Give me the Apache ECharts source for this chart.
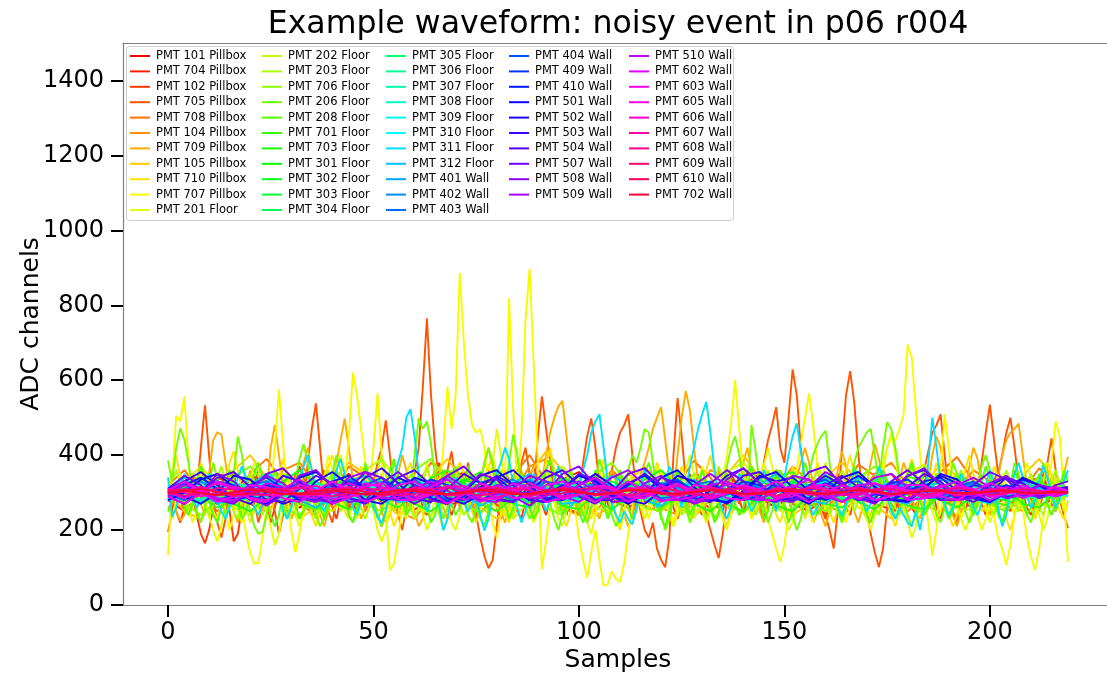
<!DOCTYPE html>
<html>
<head>
<meta charset="utf-8">
<script src="https://cdn.jsdelivr.net/npm/echarts@6/dist/echarts.min.js"></script>
<style>
html, body { margin: 0; padding: 0; background: #ffffff; }
#chart { width: 1107px; height: 675px; }
</style>
</head>
<body>
<div id="chart"></div>
<script>
// Channel names, in plotting order (later channels are drawn on top)
const pmtNames = [
  'PMT 101 Pillbox', 'PMT 704 Pillbox', 'PMT 102 Pillbox', 'PMT 705 Pillbox', 'PMT 708 Pillbox',
  'PMT 104 Pillbox', 'PMT 709 Pillbox', 'PMT 105 Pillbox', 'PMT 710 Pillbox', 'PMT 707 Pillbox',
  'PMT 201 Floor', 'PMT 202 Floor', 'PMT 203 Floor', 'PMT 706 Floor', 'PMT 206 Floor',
  'PMT 208 Floor', 'PMT 701 Floor', 'PMT 703 Floor', 'PMT 301 Floor', 'PMT 302 Floor',
  'PMT 303 Floor', 'PMT 304 Floor', 'PMT 305 Floor', 'PMT 306 Floor', 'PMT 307 Floor',
  'PMT 308 Floor', 'PMT 309 Floor', 'PMT 310 Floor', 'PMT 311 Floor', 'PMT 312 Floor',
  'PMT 401 Wall', 'PMT 402 Wall', 'PMT 403 Wall', 'PMT 404 Wall', 'PMT 409 Wall',
  'PMT 410 Wall', 'PMT 501 Wall', 'PMT 502 Wall', 'PMT 503 Wall', 'PMT 504 Wall',
  'PMT 507 Wall', 'PMT 508 Wall', 'PMT 509 Wall', 'PMT 510 Wall', 'PMT 602 Wall',
  'PMT 603 Wall', 'PMT 605 Wall', 'PMT 606 Wall', 'PMT 607 Wall', 'PMT 608 Wall',
  'PMT 609 Wall', 'PMT 610 Wall', 'PMT 702 Wall'
];

// ---- Busy channels: one ADC value per sample (samples 0..219) ----
const pmt102Pillbox = [
  280,300,250,220,260,310,290,240,190,165, 200,260,330,350,300,250,170,190,260,300,
  280,320,360,310,260,220,260,310,290,250, 280,330,370,340,280,240,270,320,360,310,
  260,230,280,330,310,270,250,300,350,320, 280,240,210,250,310,350,330,280,250,290,
  330,300,260,240,290,340,380,330,270,240, 270,320,350,300,260,220,270,330,360,310,
  260,230,280,330,300,250,230,280,340,370, 330,270,240,280,320,300,260,240,290,340,
  310,260,220,260,310,350,320,270,250,290, 330,310,270,240,280,330,360,320,270,250,
  290,340,310,260,230,270,320,350,300,260, 240,290,330,310,270,250,300,350,330,280,
  250,280,320,300,260,230,270,330,360,320, 270,240,280,310,290,260,300,340,310,260,
  230,270,320,350,310,260,240,290,330,300, 260,230,280,330,360,320,270,250,290,320,
  300,260,240,280,330,350,310,260,230,270, 320,340,300,260,250,290,330,310,270,240,
  280,330,360,320,270,250,290,330,300,260, 240,280,320,350,310,270,250,290,320,300
];
const pmt705Pillbox = [
  195,250,320,290,240,300,350,300,420,533, 400,280,220,180,230,310,360,290,250,300,
  340,280,220,260,330,300,250,190,240,310, 280,350,300,260,380,470,538,420,300,250,
  220,280,330,300,260,290,340,300,250,280, 330,380,420,493,400,300,240,200,260,300,
  350,420,580,765,560,420,330,280,360,410, 330,260,300,380,320,240,180,130,98,120,
  210,300,360,330,270,300,380,420,350,300, 450,557,470,380,300,250,280,330,300,260,
  300,380,450,498,420,320,250,300,360,420, 460,480,509,400,300,250,200,180,220,150,
  120,101,180,400,552,450,330,260,300,350, 300,240,200,160,125,190,280,340,300,270,
  310,360,300,250,290,380,440,480,528,420, 380,500,629,560,420,330,260,220,250,300,
  240,200,151,250,420,560,624,540,400,300, 250,190,140,101,150,260,330,300,250,280,
  320,280,240,300,360,410,460,480,509,400, 300,250,220,280,340,300,260,310,380,460,
  535,440,350,400,460,500,420,330,260,300, 340,290,250,300,380,445,360,280,240,205
];
const pmt709Pillbox = [
  290,330,250,225,240,310,350,330,270,240, 350,440,461,455,380,300,250,220,260,310,
  360,330,280,250,300,420,480,400,320,270, 230,260,320,380,420,360,290,240,210,250,
  310,380,440,498,420,330,270,230,260,300, 340,300,250,220,240,290,350,400,360,290,
  250,210,230,280,330,360,310,260,230,270, 320,380,350,290,250,280,330,380,420,360,
  300,250,220,260,330,390,360,300,260,230, 270,330,400,460,500,530,545,450,350,280,
  240,260,310,290,250,230,270,320,360,330, 280,240,210,240,300,350,380,420,470,500,
  528,440,350,300,400,500,571,520,420,330, 270,230,260,310,360,330,280,240,270,320,
  380,420,360,290,250,220,260,310,350,300, 260,240,280,340,380,420,380,320,270,240,
  210,250,300,360,410,370,300,250,220,260, 320,380,430,390,320,270,240,270,330,380,
  350,290,250,230,270,330,400,450,420,350, 280,240,210,250,310,370,420,390,320,270,
  240,280,340,400,440,460,470,484,400,320, 260,230,270,330,360,320,280,300,350,395
];
const pmt710Pillbox = [
  310,350,400,340,280,240,260,320,380,350, 290,250,230,270,330,380,410,360,300,260,
  220,250,310,350,300,250,280,340,390,350, 290,250,270,320,290,240,210,250,320,370,
  400,360,300,250,230,280,330,370,340,290, 260,300,350,310,250,210,240,300,350,380,
  340,280,250,290,340,300,240,200,230,290, 340,380,350,290,250,220,260,320,370,400,
  350,290,240,220,260,310,350,320,270,230, 260,320,380,420,360,290,240,210,250,310,
  350,300,250,230,280,340,390,350,290,240, 200,240,300,340,310,260,230,270,330,380,
  350,290,250,280,330,370,330,270,230,260, 310,360,400,350,280,240,210,250,310,350,
  320,270,240,280,340,380,340,280,240,220, 260,320,370,330,270,230,260,320,380,350,
  290,250,220,260,310,360,400,350,290,250, 230,270,330,370,330,280,240,210,250,300,
  350,390,350,290,250,280,330,380,340,280, 240,210,240,300,360,400,350,290,250,270,
  320,370,340,280,230,200,240,300,350,310, 260,230,270,330,380,350,290,250,230,280
];
const pmt707Pillbox = [
  133,330,505,490,557,380,260,300,350,280, 230,270,330,300,250,200,240,300,260,190,
  140,110,112,180,260,320,420,575,430,300, 200,141,190,270,330,300,250,280,340,400,
  360,300,260,330,450,621,560,470,380,300, 420,565,400,250,93,110,180,260,320,290,
  230,260,330,380,320,270,300,420,582,470, 560,886,700,560,480,460,470,420,300,220,
  180,240,330,819,520,300,450,760,898,640, 380,95,170,260,330,300,250,280,320,260,
  180,120,73,140,200,120,51,55,90,70, 62,110,190,270,340,300,260,230,280,330,
  360,310,250,220,260,300,270,230,260,320, 370,330,280,250,290,340,400,480,600,470,
  350,280,230,250,300,280,230,190,150,115, 160,240,300,360,430,500,565,480,380,300,
  250,280,330,300,250,220,260,310,350,310, 260,230,270,320,380,420,450,440,470,507,
  695,660,520,400,300,220,131,200,350,509, 420,320,260,230,270,320,290,240,200,230,
  280,240,180,150,107,160,240,300,260,180, 130,93,150,230,300,380,489,450,300,115
];
const pmt201Floor = [
  260,230,280,350,320,260,220,250,310,280, 240,200,170,210,280,330,300,250,220,270,
  330,380,360,300,250,210,160,190,260,320, 290,240,210,240,300,350,330,280,240,270,
  320,370,400,360,300,260,230,270,330,300, 250,200,170,200,260,320,300,250,230,270,
  310,280,240,200,230,290,340,310,260,220, 200,240,300,350,330,280,250,290,340,380,
  470,400,320,260,230,270,310,290,250,220, 250,300,350,320,270,230,210,250,300,340,
  310,260,220,190,240,300,350,330,280,240, 210,250,310,360,330,270,230,260,320,370,
  340,280,240,210,240,300,360,400,350,290, 250,220,250,300,270,230,200,240,300,350,
  320,270,230,260,310,370,420,370,310,260, 230,200,220,270,320,300,250,220,260,320,
  380,350,290,250,220,250,310,360,330,270, 230,200,240,300,350,420,460,400,320,260,
  220,180,210,270,330,300,250,220,250,310, 360,330,270,230,200,230,290,340,310,260,
  220,250,300,350,320,270,240,270,330,380, 340,280,240,200,230,290,340,300,250,260
];
const pmt203Floor = [
  300,330,360,320,270,250,280,330,310,260, 240,280,340,370,330,280,250,230,270,320,
  350,310,260,240,280,330,360,320,270,240, 260,310,350,330,280,250,230,270,320,360,
  340,290,250,270,320,350,310,260,230,260, 310,360,400,350,290,250,270,320,300,260,
  230,260,320,370,330,280,240,270,330,360, 320,270,240,260,310,350,330,280,250,270,
  320,360,330,270,240,280,330,310,260,230, 260,320,360,340,290,250,280,330,360,320,
  270,240,260,310,350,320,270,240,270,320, 350,310,260,230,260,310,360,330,280,250,
  280,330,360,320,270,240,260,310,340,300, 260,230,270,330,370,340,290,250,280,320,
  360,320,270,240,270,330,360,320,270,250, 280,320,350,310,260,240,280,330,360,320,
  270,240,270,320,360,330,280,250,280,330, 360,310,260,240,280,330,300,260,240,280,
  330,370,330,280,250,270,320,350,310,260, 240,280,330,360,320,270,250,280,330,310,
  260,240,270,320,360,330,280,250,280,330, 350,310,260,240,280,330,360,320,280,300
];
const pmt206Floor = [
  385,330,420,472,440,380,300,250,220,260, 320,380,340,280,240,270,350,450,400,310,
  250,210,190,195,240,300,360,330,270,230, 260,330,390,430,380,300,240,210,230,290,
  350,400,360,290,240,220,260,320,380,340, 280,240,210,250,320,380,350,290,250,300,
  400,498,470,490,430,340,270,230,260,320, 370,340,280,240,220,260,320,380,420,380,
  310,260,300,380,455,400,320,260,230,250, 300,350,320,270,230,200,240,300,360,330,
  280,240,220,260,330,390,350,290,240,210, 240,300,360,400,380,420,470,460,380,300,
  240,200,230,290,340,310,260,220,250,310, 360,330,270,230,250,310,370,420,450,400,
  330,280,480,410,320,260,220,250,310,360, 330,280,240,200,230,290,350,400,430,450,
  465,380,300,250,220,260,320,380,420,440, 460,470,400,330,420,488,470,420,340,280,
  240,210,250,310,370,340,280,240,220,260, 320,380,350,290,250,220,250,310,370,400,
  360,300,250,220,260,320,380,350,290,240, 220,260,320,380,340,290,250,300,360,340
];
const pmt208Floor = [
  250,280,320,300,260,240,270,330,370,340, 280,240,220,260,320,360,330,270,230,250,
  300,350,380,340,280,240,210,240,300,350, 330,270,230,250,300,340,310,260,230,260,
  320,360,330,280,240,220,260,320,370,340, 280,230,250,310,360,390,340,280,240,260,
  310,350,320,260,220,240,300,360,330,270, 240,260,320,370,340,280,230,210,250,310,
  360,330,270,230,260,320,350,310,260,230, 250,310,360,390,340,280,240,260,320,300,
  250,220,250,310,360,330,270,230,260,320, 360,320,260,230,250,300,350,380,340,280,
  230,210,250,310,360,330,280,240,270,320, 360,320,260,220,240,300,350,330,270,240,
  260,320,370,340,280,230,250,310,350,310, 260,220,250,300,340,380,340,280,240,260,
  310,350,320,260,230,260,320,370,340,280, 240,220,260,320,360,330,270,230,250,300,
  350,380,340,280,240,260,310,350,310,260, 230,250,300,350,330,270,240,270,330,370,
  340,280,240,220,260,320,360,330,270,240, 260,310,350,320,270,240,270,320,350,330
];
const pmt311Floor = [
  341,235,260,310,350,330,290,260,280,320, 350,320,280,250,230,260,300,340,370,340,
  300,260,240,270,310,350,330,290,250,230, 260,300,340,370,400,360,310,270,250,280,
  320,360,390,350,300,260,240,280,330,300, 260,235,220,250,300,340,380,420,500,523,
  450,350,280,250,280,320,260,200,230,290, 340,320,280,250,270,300,240,198,230,290,
  350,380,420,390,320,260,220,250,310,350, 330,280,250,280,330,370,340,290,260,280,
  320,360,400,460,490,509,420,330,270,240, 220,250,230,215,260,320,360,330,290,260,
  280,330,370,350,300,260,300,370,420,470, 510,542,460,360,290,250,230,260,310,350,
  330,280,250,270,320,360,330,280,250,290, 340,400,450,485,410,330,270,240,260,310,
  350,330,290,260,240,270,320,360,330,280, 250,270,320,370,340,290,250,230,260,240,
  220,210,250,200,260,380,500,420,330,270, 240,260,310,350,330,290,260,240,270,320,
  360,330,260,210,240,300,350,380,340,290, 260,280,330,370,340,300,260,280,330,360
];

// ---- Quiet channels: one ADC value every 4th sample (0, 4, ... 216, then 219) ----
const pmt101Pillbox = [300,320,285,270,310,345,330,290,260,285,320,350,310,275,290,330,300,265,280,315,340,305,270,295,335,355,310,280,260,290,325,300,270,295,340,320,285,260,300,330,310,275,295,335,350,300,270,290,320,295,265,285,325,340,300,290];
const pmt704Pillbox = [280,250,300,340,320,270,250,290,340,360,310,260,280,320,295,255,275,330,355,300,265,290,335,310,260,245,300,350,320,275,290,335,300,255,270,320,350,310,270,250,295,340,315,270,255,300,345,325,280,260,305,340,300,265,285,310];
const pmt708Pillbox = [320,360,300,250,280,350,390,330,270,240,300,370,340,280,250,310,380,350,290,250,280,345,400,330,260,240,300,360,320,265,250,320,385,340,280,245,295,360,330,270,250,310,375,345,285,250,290,355,395,330,270,250,305,365,320,300];
const pmt104Pillbox = [260,300,350,320,270,240,290,360,380,320,260,280,340,300,250,230,290,350,330,280,250,300,370,390,330,270,250,300,350,310,260,240,295,360,340,280,255,310,370,330,270,245,290,350,380,320,265,250,305,360,330,280,250,300,340,310];
const pmt105Pillbox = [300,250,230,290,360,400,340,270,230,260,330,380,350,280,240,270,340,390,330,260,230,280,350,410,360,290,240,260,330,370,320,260,235,280,350,400,340,280,240,270,340,380,330,270,230,260,320,375,345,280,240,275,345,390,330,290];
const pmt202Floor = [290,330,370,320,260,240,290,350,330,270,250,300,360,390,330,270,240,280,340,310,260,230,280,340,370,320,260,250,300,350,320,265,240,290,355,380,325,270,250,300,345,315,260,240,290,350,375,320,265,250,300,340,310,270,260,300];
const pmt706Floor = [310,270,240,280,340,370,320,260,240,290,350,320,270,250,300,360,390,330,270,245,280,345,310,260,240,290,350,380,320,260,250,300,350,315,265,245,295,360,335,275,250,290,340,370,320,265,245,300,350,320,270,250,295,345,320,290];
const pmt701Floor = [300,330,290,260,280,320,350,310,270,255,290,335,320,280,260,295,340,360,315,270,250,285,330,305,265,255,300,345,325,280,260,290,330,310,270,250,295,340,355,310,270,260,300,335,305,265,255,295,340,320,280,265,300,330,305,290];
const pmt703Floor = [280,300,340,310,270,250,290,330,360,320,275,255,295,340,315,270,250,285,330,355,310,270,260,300,340,320,280,255,290,335,360,315,270,250,290,330,305,265,250,295,340,320,275,255,300,345,325,280,260,290,330,310,270,260,300,310];
const pmt301Floor = [300,315,290,275,295,320,330,305,280,290,315,300,280,295,325,335,310,285,275,300,320,305,285,280,305,330,315,290,275,295,320,310,285,280,300,325,335,305,280,290,315,300,280,290,320,310,290,280,300,320,310,285,290,315,305,300];
const pmt302Floor = [295,280,300,325,310,285,275,300,330,320,290,275,290,320,305,280,285,310,335,315,285,275,295,320,310,285,280,305,330,315,290,280,300,325,310,285,275,300,325,320,295,280,295,320,305,280,285,310,330,310,285,280,300,320,305,295];
const pmt303Floor = [310,290,275,295,320,310,285,290,315,330,305,280,285,310,300,275,290,320,325,300,280,295,320,305,280,285,310,330,310,285,280,300,320,300,280,290,315,325,300,280,295,320,310,285,280,305,325,310,285,285,310,320,300,285,300,305];
const pmt304Floor = [290,310,330,305,280,285,310,300,275,290,320,335,305,280,290,315,300,280,295,325,315,290,275,300,325,310,285,285,310,325,300,280,295,320,305,280,290,315,330,305,280,295,315,300,280,295,320,325,300,285,300,315,300,285,295,300];
const pmt305Floor = [305,285,295,320,310,285,280,305,325,310,290,280,300,320,305,285,295,320,310,285,280,300,325,315,290,280,300,320,305,285,290,315,325,300,280,290,315,305,285,290,315,320,300,280,295,320,310,290,285,305,320,305,285,290,305,300];
const pmt306Floor = [300,320,305,285,290,315,325,300,280,295,320,310,285,285,310,325,305,280,290,315,300,280,295,320,330,305,285,290,315,305,285,290,320,315,290,280,300,325,310,285,290,310,320,300,285,300,320,305,285,290,315,310,290,295,310,300];
const pmt307Floor = [285,300,325,315,290,280,300,320,305,285,290,315,330,305,285,295,315,300,280,290,320,315,290,280,300,325,310,285,285,305,320,300,280,295,320,325,300,285,295,315,305,285,290,315,325,305,285,290,310,300,285,295,315,310,295,300];
const pmt308Floor = [310,295,280,300,325,315,290,285,305,325,310,285,280,300,320,305,285,295,320,330,305,285,290,310,300,280,295,320,315,290,280,305,325,310,290,285,305,320,300,280,295,320,310,285,290,310,325,305,285,295,315,305,290,290,305,305];
const pmt309Floor = [300,325,310,285,280,305,330,315,290,280,300,325,310,285,290,315,335,305,280,290,320,310,285,285,310,330,310,285,280,300,325,315,290,285,305,320,305,285,290,315,330,305,280,295,320,310,285,290,315,325,300,285,300,315,300,295];
const pmt310Floor = [290,280,305,330,320,290,275,295,325,315,285,280,305,330,310,285,290,320,305,280,290,320,335,305,280,295,320,310,285,285,315,330,305,280,295,320,310,285,290,320,335,300,280,300,325,310,285,290,320,315,290,285,305,320,300,290];
const pmt312Floor = [310,340,300,270,285,320,350,315,280,260,290,330,345,310,275,280,320,340,300,265,285,325,350,310,270,275,310,345,320,280,265,300,335,310,275,285,320,350,315,280,270,305,340,320,280,270,300,335,325,285,270,300,330,310,290,300];
const pmt401Wall = [300,285,305,330,315,290,280,300,325,310,285,290,315,330,305,280,295,320,305,280,290,320,335,310,285,290,315,300,280,295,325,320,290,280,305,330,310,285,290,315,325,300,280,300,325,315,290,285,305,325,305,285,295,315,305,300];
const pmt402Wall = [290,310,330,305,280,290,320,310,285,280,305,335,320,290,280,300,325,305,280,290,320,335,310,285,285,310,325,300,280,295,325,315,285,280,305,330,315,290,285,310,320,300,280,300,330,320,290,285,310,325,300,285,300,320,305,300];
const pmt403Wall = [305,325,300,280,295,320,330,305,285,295,320,305,280,290,325,335,305,280,290,315,300,280,300,330,320,290,280,305,325,310,285,290,320,330,300,280,295,320,305,280,295,325,330,300,280,300,320,305,285,295,320,315,290,295,310,305];
const pmt404Wall = [295,280,300,330,320,290,280,305,325,305,280,290,320,340,310,285,290,315,300,280,295,325,330,300,280,300,320,305,285,290,320,335,305,280,295,320,310,285,290,320,335,305,280,295,320,310,285,290,315,330,305,285,300,320,300,300];
const pmt409Wall = [310,330,305,280,290,320,340,310,285,280,305,330,315,285,280,305,335,320,290,280,300,325,310,285,290,320,340,310,280,290,315,330,300,280,300,330,320,290,280,305,325,305,280,295,325,335,305,280,300,320,310,290,295,320,310,300];
const pmt410Wall = [300,320,340,310,280,290,320,305,280,295,330,345,310,280,290,320,300,275,290,325,340,305,280,295,320,310,280,290,325,345,310,280,295,320,305,280,290,330,340,305,280,300,320,300,280,300,330,340,305,285,300,320,305,290,305,310];
const pmt501Wall = [280,300,335,350,315,280,270,300,340,355,320,285,275,305,340,320,285,270,300,345,360,320,280,275,310,345,330,290,270,295,340,360,315,280,275,305,345,330,290,270,300,340,355,315,280,280,315,345,325,285,275,305,340,320,290,300];
const pmt502Wall = [310,290,270,300,345,335,295,270,285,330,355,320,280,270,300,340,325,285,270,295,340,360,320,280,280,320,350,320,280,270,305,345,330,290,270,300,340,355,315,280,285,320,345,315,280,275,310,350,335,295,275,300,335,320,295,305];
const pmt503Wall = [300,330,355,320,285,270,300,345,330,290,270,295,340,365,325,285,275,310,350,325,285,275,305,340,360,320,280,280,320,350,315,280,275,305,345,365,325,285,280,315,345,320,285,275,305,345,360,320,285,290,320,340,310,290,310,315];
const pmt504Wall = [290,270,300,340,355,315,280,275,310,345,325,285,270,300,340,360,320,285,280,315,345,320,280,275,310,350,335,295,275,300,340,325,285,275,305,345,355,315,280,285,320,345,315,280,280,315,350,330,290,275,300,340,325,295,300,310];
const pmt507Wall = [310,345,320,280,270,305,350,365,320,280,275,310,355,340,295,270,295,345,370,325,280,275,315,360,340,290,270,300,350,365,320,280,285,325,360,330,285,275,305,355,370,320,280,285,330,360,325,280,280,320,355,335,295,290,320,330];
const pmt508Wall = [290,270,300,350,330,285,265,295,345,360,315,275,280,325,355,320,280,270,305,350,335,290,265,300,350,370,320,275,280,325,345,305,270,285,335,365,325,280,275,315,355,330,285,270,305,345,365,320,280,285,325,345,310,285,300,300];
const pmt509Wall = [305,330,310,280,275,310,345,325,285,275,300,340,355,315,280,285,320,345,315,280,275,310,345,330,290,275,305,340,360,320,280,280,320,350,320,285,280,310,345,335,290,275,305,340,350,315,285,290,320,340,315,285,295,320,310,305];
const pmt510Wall = [300,320,310,285,280,300,325,315,290,285,305,325,310,285,285,310,330,305,280,295,320,310,285,290,315,330,305,285,295,320,305,280,290,320,330,305,285,300,320,305,285,295,320,325,300,285,300,320,305,290,300,315,305,295,305,300];
const pmt602Wall = [290,270,300,330,315,280,275,310,335,305,270,285,325,315,280,280,315,335,300,275,295,325,310,275,285,320,340,305,275,295,320,300,275,290,325,315,280,280,315,335,300,275,295,325,310,280,285,315,330,300,280,300,320,300,290,300];
const pmt603Wall = [305,330,300,275,290,320,315,285,275,305,330,305,275,290,320,330,300,270,295,325,310,285,290,320,330,300,275,300,330,305,275,290,320,315,285,280,310,330,300,275,300,320,305,280,290,320,320,290,280,305,325,305,285,300,315,305];
const pmt605Wall = [300,285,305,325,310,285,280,300,322,305,282,290,316,325,300,280,295,318,310,285,283,305,325,305,283,295,318,315,288,285,308,325,302,283,298,320,308,285,290,315,322,300,283,300,320,306,285,296,318,310,288,296,312,306,294,300];
const pmt606Wall = [310,300,290,300,315,308,292,295,312,318,300,288,298,314,306,290,295,315,318,300,288,300,316,306,290,296,314,310,292,292,310,318,300,288,300,315,305,290,296,314,312,294,292,308,316,302,290,300,314,306,292,298,312,304,296,302];
const pmt607Wall = [295,305,315,302,290,296,312,310,294,292,306,316,302,290,298,314,308,292,295,312,316,300,290,300,314,306,292,296,312,312,296,292,306,316,302,290,298,312,308,294,296,310,314,300,292,302,314,304,292,298,310,308,296,298,306,300];
const pmt608Wall = [300,292,298,312,308,294,294,308,314,300,290,298,312,306,292,296,310,314,300,292,300,312,306,294,298,310,312,298,292,302,312,306,294,296,310,312,298,292,302,312,306,294,298,310,310,298,294,304,312,304,294,300,310,304,298,300];
const pmt609Wall = [305,310,300,292,298,310,308,296,294,304,312,304,294,298,308,310,298,294,302,310,306,296,296,306,312,302,294,298,308,308,298,294,302,310,306,296,298,308,310,300,294,300,310,306,296,298,306,308,298,296,304,308,302,298,302,300];
const pmt610Wall = [298,304,310,302,294,298,308,306,296,296,304,310,302,294,300,308,306,296,298,306,310,300,294,302,310,304,296,298,306,308,300,294,300,308,306,298,296,304,310,302,296,300,308,304,296,300,306,306,298,298,304,306,300,300,304,300];
const pmt702Wall = [300,305,298,294,302,308,302,296,298,304,306,300,296,300,306,304,298,296,302,306,302,296,298,304,306,300,296,300,306,304,298,298,302,306,300,296,300,304,304,298,298,302,306,302,296,300,304,304,298,300,302,304,300,298,302,300];

// Axis tick labels
const xTickValues = [0, 50, 100, 150, 200];
const yTickValues = [0, 200, 400, 600, 800, 1000, 1200, 1400];

const traces = {
  'PMT 101 Pillbox': pmt101Pillbox, 'PMT 704 Pillbox': pmt704Pillbox, 'PMT 102 Pillbox': pmt102Pillbox,
  'PMT 705 Pillbox': pmt705Pillbox, 'PMT 708 Pillbox': pmt708Pillbox, 'PMT 104 Pillbox': pmt104Pillbox,
  'PMT 709 Pillbox': pmt709Pillbox, 'PMT 105 Pillbox': pmt105Pillbox, 'PMT 710 Pillbox': pmt710Pillbox,
  'PMT 707 Pillbox': pmt707Pillbox, 'PMT 201 Floor': pmt201Floor, 'PMT 202 Floor': pmt202Floor,
  'PMT 203 Floor': pmt203Floor, 'PMT 706 Floor': pmt706Floor, 'PMT 206 Floor': pmt206Floor,
  'PMT 208 Floor': pmt208Floor, 'PMT 701 Floor': pmt701Floor, 'PMT 703 Floor': pmt703Floor,
  'PMT 301 Floor': pmt301Floor, 'PMT 302 Floor': pmt302Floor, 'PMT 303 Floor': pmt303Floor,
  'PMT 304 Floor': pmt304Floor, 'PMT 305 Floor': pmt305Floor, 'PMT 306 Floor': pmt306Floor,
  'PMT 307 Floor': pmt307Floor, 'PMT 308 Floor': pmt308Floor, 'PMT 309 Floor': pmt309Floor,
  'PMT 310 Floor': pmt310Floor, 'PMT 311 Floor': pmt311Floor, 'PMT 312 Floor': pmt312Floor,
  'PMT 401 Wall': pmt401Wall, 'PMT 402 Wall': pmt402Wall, 'PMT 403 Wall': pmt403Wall,
  'PMT 404 Wall': pmt404Wall, 'PMT 409 Wall': pmt409Wall, 'PMT 410 Wall': pmt410Wall,
  'PMT 501 Wall': pmt501Wall, 'PMT 502 Wall': pmt502Wall, 'PMT 503 Wall': pmt503Wall,
  'PMT 504 Wall': pmt504Wall, 'PMT 507 Wall': pmt507Wall, 'PMT 508 Wall': pmt508Wall,
  'PMT 509 Wall': pmt509Wall, 'PMT 510 Wall': pmt510Wall, 'PMT 602 Wall': pmt602Wall,
  'PMT 603 Wall': pmt603Wall, 'PMT 605 Wall': pmt605Wall, 'PMT 606 Wall': pmt606Wall,
  'PMT 607 Wall': pmt607Wall, 'PMT 608 Wall': pmt608Wall, 'PMT 609 Wall': pmt609Wall,
  'PMT 610 Wall': pmt610Wall, 'PMT 702 Wall': pmt702Wall
};

// Sample index for each point of a trace
const N_SAMPLES = 220;
const coarseSamples = [];
for (let s = 0; s < N_SAMPLES; s += 4) coarseSamples.push(s);
coarseSamples.push(N_SAMPLES - 1);

function samplePairs(values) {
  if (values.length >= N_SAMPLES) {
    return values.slice(0, N_SAMPLES).map((v, i) => [i, v]);
  }
  return values.slice(0, coarseSamples.length).map((v, i) => [coarseSamples[i], v]);
}

// matplotlib "hsv" colormap
const HSV = {
  r: [[0, 1], [0.158730, 1], [0.174603, 0.96875], [0.333333, 0.03125], [0.349206, 0], [0.666667, 0],
      [0.682540, 0.03125], [0.841270, 0.96875], [0.857143, 1], [1, 1]],
  g: [[0, 0], [0.158730, 0.9375], [0.174603, 1], [0.507937, 1], [0.666667, 0.0625], [0.682540, 0], [1, 0]],
  b: [[0, 0], [0.333333, 0], [0.349206, 0.0625], [0.507937, 1], [0.841270, 1], [0.857143, 0.9375], [1, 0.09375]]
};
function channel(seg, t) {
  for (let k = 1; k < seg.length; k++) {
    if (t <= seg[k][0]) {
      const [x0, y0] = seg[k - 1], [x1, y1] = seg[k];
      return y0 + (y1 - y0) * (t - x0) / (x1 - x0);
    }
  }
  return seg[seg.length - 1][1];
}
function hsvColor(t) {
  const c = v => Math.round(Math.max(0, Math.min(1, v)) * 255);
  return 'rgb(' + c(channel(HSV.r, t)) + ',' + c(channel(HSV.g, t)) + ',' + c(channel(HSV.b, t)) + ')';
}

const FONT = "'DejaVu Sans', 'Liberation Sans', sans-serif";
const colors = pmtNames.map((n, i) => hsvColor(i / pmtNames.length));

const series = pmtNames.map((name, i) => ({
  name: name,
  type: 'line',
  data: samplePairs(traces[name]),
  showSymbol: false,
  symbol: 'none',
  silent: true,
  color: colors[i],
  lineStyle: { width: 1.9, color: colors[i] },
  animation: false
}));

// Legend: five columns
const legendCols = [[0, 11, 130], [11, 22, 262], [22, 33, 386], [33, 43, 509], [43, 53, 629]];
const legends = legendCols.map(([a, b, x]) => ({
  data: pmtNames.slice(a, b),
  orient: 'vertical',
  left: x,
  top: 48.3,
  padding: 0,
  itemGap: 0,
  itemWidth: 20,
  itemHeight: 2,
  icon: 'rect',
  selectedMode: false,
  z: 10,
  textStyle: { fontFamily: FONT, fontSize: 11.5, color: '#000', lineHeight: 15.4, padding: [0, 0, 0, 1] }
}));

const axisLineStyle = { show: true, onZero: false, lineStyle: { color: '#808080', width: 1.2 } };
const plainNumber = v => String(v);

const option = {
  backgroundColor: '#ffffff',
  animation: false,
  grid: { left: 123, right: 0, top: 43, bottom: 70, containLabel: false },
  legend: legends,
  xAxis: [{
    type: 'value',
    min: -10.95,
    max: 228.5,
    axisLine: axisLineStyle,
    splitLine: { show: false },
    axisTick: { show: true, length: 12, lineStyle: { color: '#000', width: 2 }, customValues: xTickValues },
    axisLabel: { customValues: xTickValues, formatter: plainNumber, fontFamily: FONT, fontSize: 24, color: '#000', margin: 16 }
  }, {
    type: 'value',
    position: 'top',
    min: -10.95,
    max: 228.5,
    axisLine: axisLineStyle,
    splitLine: { show: false },
    axisTick: { show: false },
    axisLabel: { show: false }
  }],
  yAxis: {
    type: 'value',
    min: 0,
    max: 1500,
    axisLine: axisLineStyle,
    splitLine: { show: false },
    axisTick: { show: true, length: 12, lineStyle: { color: '#000', width: 2 }, customValues: yTickValues },
    axisLabel: { customValues: yTickValues, formatter: plainNumber, fontFamily: FONT, fontSize: 24, color: '#000', margin: 19 }
  },
  graphic: [
    {
      type: 'rect', z: 1, silent: true,
      shape: { x: 126.5, y: 46.5, width: 607, height: 174, r: 3 },
      style: { fill: 'rgba(255,255,255,0.8)', stroke: '#cccccc', lineWidth: 1 }
    },
    {
      type: 'text', x: 618, y: 24.5,
      style: { text: 'Example waveform: noisy event in p06 r004', font: '31.6px ' + FONT, fill: '#000',
               align: 'center', verticalAlign: 'middle' }
    },
    {
      type: 'text', x: 618, y: 660,
      style: { text: 'Samples', font: '25px ' + FONT, fill: '#000', align: 'center', verticalAlign: 'middle' }
    },
    {
      type: 'text', x: 31.5, y: 324, rotation: Math.PI / 2,
      style: { text: 'ADC channels', font: '25px ' + FONT, fill: '#000', align: 'center', verticalAlign: 'middle' }
    }
  ],
  series: series
};

const chart = echarts.init(document.getElementById('chart'), null, { renderer: 'canvas' });
chart.setOption(option);
</script>
</body>
</html>
